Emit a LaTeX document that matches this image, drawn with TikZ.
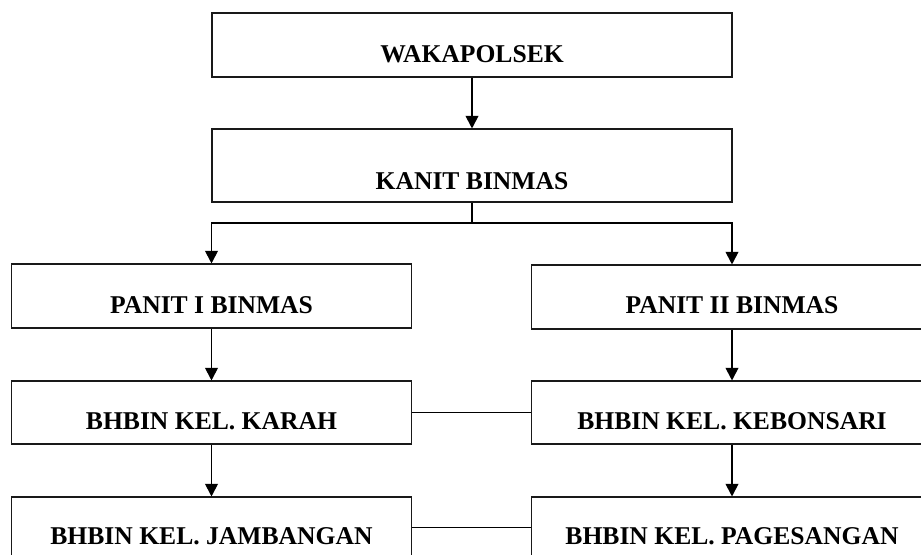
\documentclass[tikz,border=0pt]{standalone}
\usepackage{fontspec}
\setmainfont{Liberation Serif}
\usetikzlibrary{arrows.meta}
\begin{document}
\begin{tikzpicture}[x=0.75pt,y=-0.75pt,
  box/.style={draw=black!90,line width=0.85pt,rectangle,inner sep=0pt,minimum height=48pt},
  wide/.style={box,minimum width=390pt},
  half/.style={box,minimum width=300.5pt},
  txt/.style={font=\fontsize{19.2}{22}\selectfont\bfseries,inner sep=0pt,text=black},
  conn/.style={line width=0.85pt,draw=black},
  arr/.style={conn,-{Triangle[width=9.6pt,length=9.4pt]}}]
\useasboundingbox (0,0) rectangle (921,554);
\clip (0,0) rectangle (921,554);
% boxes
\node[wide] (w)  at (472,45)   {};
\node[wide,minimum height=54.75pt] (k)  at (472,165.5) {};
\node[half] (p1) at (211.5,296) {};
\node[half] (p2) at (732,297)   {};
\node[half,minimum height=47.25pt] (ka) at (211.5,412.5) {};
\node[half,minimum height=47.25pt] (ke) at (732,412.5) {};
\node[half] (j)  at (211.5,529) {};
\node[half] (pg) at (732,529)   {};
% texts
\node[txt] (wt)  at (472,54.5)   {WAKAPOLSEK};
\node[txt] (kt)  at (472,181)    {KANIT BINMAS};
\node[txt] (p1t) at (211.5,305)  {PANIT I BINMAS};
\node[txt] (p2t) at (732,305.5)  {PANIT II BINMAS};
\node[txt] (kat) at (211.5,421.5){BHBIN KEL. KARAH};
\node[txt] (ket) at (732,421.5)  {BHBIN KEL. KEBONSARI};
\node[txt] (jt)  at (211.5,536.5){BHBIN KEL. JAMBANGAN};
\node[txt] (pgt) at (732,536.5)  {BHBIN KEL. PAGESANGAN};
% connectors
\coordinate (kb) at (472,223);
\draw[arr] (w.south) -- (k.north);
\draw[conn] (k.south) -- (kb);
\draw[arr] (kb) -| (p1.north);
\draw[arr] (kb) -| (p2.north);
\draw[arr] (p1.south) -- (ka.north);
\draw[arr] (ka.south) -- (j.north);
\draw[arr] (p2.south) -- (ke.north);
\draw[arr] (ke.south) -- (pg.north);
\draw[conn] (ka.east) -- (ke.west);
\draw[conn] ([yshift=0.9pt]j.east) -- ([yshift=0.9pt]pg.west);
\end{tikzpicture}
\end{document}
